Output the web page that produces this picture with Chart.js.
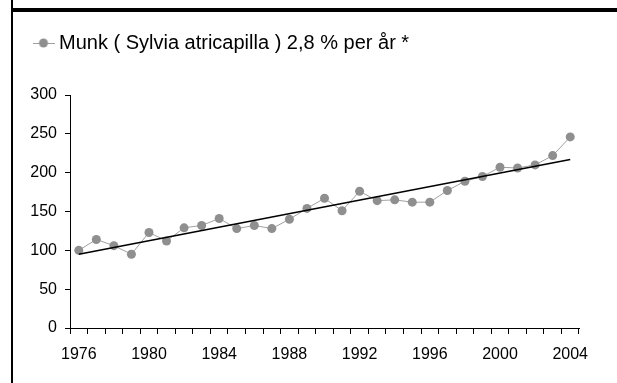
<!DOCTYPE html>
<html>
<head>
<meta charset="utf-8">
<script src="https://cdn.jsdelivr.net/npm/chart.js@4/dist/chart.umd.min.js"></script>
<style>
  body { margin: 0; background: #fff; }
  #wrap { position: relative; width: 617px; height: 383px; overflow: hidden; }
  #frameLeft { position: absolute; left: 11px; top: 0; width: 2px; height: 383px; background: #000; }
  #frameTop { position: absolute; left: 11px; top: 8px; right: 0; height: 4px; background: #000; }
</style>
</head>
<body>
<div id="wrap">
  <canvas id="chart" width="617" height="383"></canvas>
  <div id="frameLeft"></div>
  <div id="frameTop"></div>
</div>
<script>
const years = [1976, 1977, 1978, 1979, 1980, 1981, 1982, 1983, 1984, 1985,
  1986, 1987, 1988, 1989, 1990, 1991, 1992, 1993, 1994, 1995,
  1996, 1997, 1998, 1999, 2000, 2001, 2002, 2003, 2004];
const munk = [100, 114, 106, 95, 123, 112, 129, 132, 141, 128,
  132, 128, 140, 154, 167, 151, 176, 164, 165, 162,
  162, 177, 189, 195, 207, 206, 210, 222, 246];
// trendline end points (first and last year)
const trendStart = 95;
const trendEnd = 217;
const yTicks = [0, 50, 100, 150, 200, 250, 300];
const seriesLabel = 'Munk ( Sylvia atricapilla ) 2,8 % per år *';

const trend = years.map((y, i) => i === 0 ? trendStart : (i === years.length - 1 ? trendEnd : null));

Chart.defaults.font.family = 'Arial, "Liberation Sans", sans-serif';
Chart.defaults.color = '#000';

// legend symbol: short line with a dot
const sym = document.createElement('canvas');
sym.width = 22; sym.height = 10;
const sc = sym.getContext('2d');
sc.strokeStyle = '#a0a0a0';
sc.lineWidth = 1;
sc.beginPath(); sc.moveTo(0, 5.5); sc.lineTo(22, 5.5); sc.stroke();
sc.fillStyle = '#8f8f8f';
sc.beginPath(); sc.arc(11, 5, 4.5, 0, Math.PI * 2); sc.fill();

const legendGap = {
  id: 'legendGap',
  beforeInit(chart) {
    const fit = chart.legend.fit;
    chart.legend.fit = function () {
      fit.bind(chart.legend)();
      this.height += 32;
    };
  }
};

new Chart(document.getElementById('chart'), {
  type: 'line',
  data: {
    labels: years,
    datasets: [{
      label: seriesLabel,
      data: munk,
      order: 1,
      borderColor: '#a0a0a0',
      borderWidth: 1,
      pointRadius: 4.5,
      pointBorderWidth: 0,
      pointBackgroundColor: '#8f8f8f',
      pointStyle: 'circle',
      tension: 0
    }, {
      label: 'trend',
      data: trend,
      order: 0,
      spanGaps: true,
      borderColor: '#000',
      borderWidth: 1.6,
      pointRadius: 0,
      tension: 0
    }]
  },
  options: {
    responsive: false,
    animation: false,
    layout: { padding: { left: 28, right: 38, top: 23, bottom: 0 } },
    plugins: {
      tooltip: { enabled: false },
      legend: {
        position: 'top',
        align: 'start',
        labels: {
          usePointStyle: true,
          pointStyle: sym,
          boxWidth: 11,
          boxHeight: 11,
          padding: 10,
          font: { size: 20 },
          filter: item => item.datasetIndex === 0,
          generateLabels: chart => [{
            text: seriesLabel,
            pointStyle: sym,
            fillStyle: '#8f8f8f',
            strokeStyle: '#a0a0a0',
            lineWidth: 0,
            datasetIndex: 0
          }]
        }
      }
    },
    scales: {
      x: {
        type: 'category',
        offset: true,
        grid: { offset: true, drawOnChartArea: false, drawTicks: true, tickLength: 6, color: '#000' },
        border: { color: '#000', width: 1 },
        ticks: {
          autoSkip: false,
          maxRotation: 0,
          padding: 11,
          font: { size: 16 },
          callback: function (v, i) {
            const yr = years[i];
            return (yr - years[0]) % 4 === 0 ? String(yr) : '';
          }
        },
        afterFit: s => { s.height = 55; }
      },
      y: {
        min: yTicks[0],
        max: yTicks[yTicks.length - 1],
        grid: { drawOnChartArea: false, drawTicks: true, tickLength: 5, color: '#000' },
        border: { color: '#000', width: 1 },
        ticks: { stepSize: 50, padding: 8, font: { size: 16 } },
        afterFit: s => { s.width = 42; }
      }
    }
  },
  plugins: [legendGap]
});
</script>
</body>
</html>
